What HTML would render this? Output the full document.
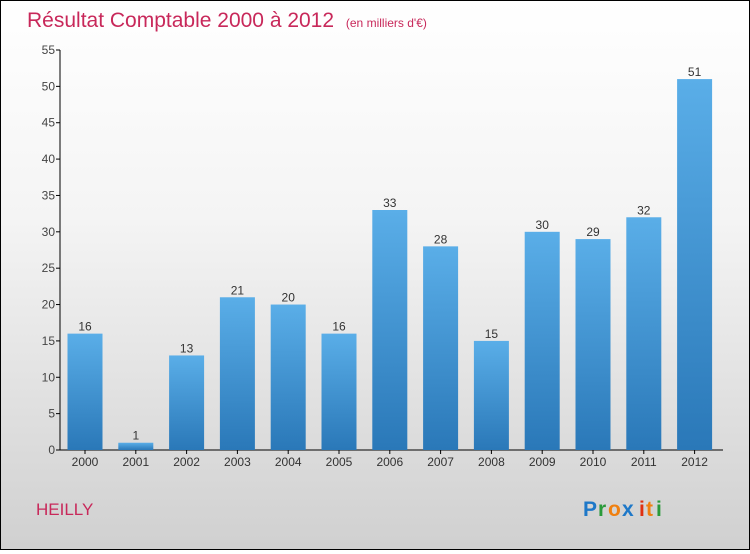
<!DOCTYPE html>
<html><head><meta charset="utf-8"><style>
body{margin:0}
#c{width:748px;height:548px;border:1px solid #000;background:linear-gradient(#ffffff,#f4f4f4 40%,#d0d0d0);position:relative;font-family:"Liberation Sans",sans-serif}
</style></head><body>
<div id="c">
<svg width="748" height="548">
<defs><linearGradient id="bg" x1="0" y1="0" x2="0" y2="1"><stop offset="0" stop-color="#5aaee8"/><stop offset="1" stop-color="#2a78b8"/></linearGradient></defs>
<text x="26" y="26" font-size="21" fill="#c8285a">Résultat Comptable 2000 à 2012 <tspan font-size="12" dx="6">(en milliers d'€)</tspan></text>
<text x="35" y="514" font-size="17" fill="#c8285a">HEILLY</text>
<g font-size="21" font-weight="bold">
<text x="582" y="515" fill="#1e78c8">P</text><text x="597" y="515" fill="#2a9a3a">r</text><text x="607" y="515" fill="#f08010">o</text><text x="621" y="515" fill="#1e78c8">x</text><text x="638" y="515" fill="#e03010">i</text><text x="645" y="515" fill="#f08010">t</text><text x="655" y="515" fill="#2a9a3a">i</text></g>
<g id="axes"></g><g id="bars"></g>
</svg></div>
<script>
const categories=["2000","2001","2002","2003","2004","2005","2006","2007","2008","2009","2010","2011","2012"];
const values=[16,1,13,21,20,16,33,28,15,30,29,32,51];
const yTicks=[0,5,10,15,20,25,30,35,40,45,50,55];
const NS="http://www.w3.org/2000/svg";
const y0=449,yTop=49,yMax=55,x0=84,step=50.8,bw=35,axX=59;
const y=v=>y0-(y0-yTop)*v/yMax;
const x=i=>x0+i*step;
function mk(t,a,p){const e=document.createElementNS(NS,t);for(const k in a)e.setAttribute(k,a[k]);p.appendChild(e);return e;}
const ax=document.getElementById('axes'),bs=document.getElementById('bars');
const yl=mk('line',{x1:axX,y1:yTop,x2:axX,y2:y0,stroke:'#000'},ax);

const xl=mk('line',{x1:axX,y1:y0,x2:722,y2:y0,stroke:'#000'},ax);

yTicks.forEach(t=>{
 mk('line',{x1:axX-4,y1:y(t),x2:axX,y2:y(t),stroke:'#000'},ax);
 const tx=mk('text',{x:axX-5,y:y(t)+4,'font-size':12,fill:'#444','text-anchor':'end'},ax);tx.textContent=t;
 
});
categories.forEach((c,i)=>{
 const cx=x(i);
 mk('line',{x1:cx,y1:y0,x2:cx,y2:y0+4,stroke:'#000'},ax);
 const tx=mk('text',{x:cx,y:y0+16,'font-size':12,fill:'#333','text-anchor':'middle'},ax);tx.textContent=c;
 
 const r=mk('rect',{x:cx-bw/2,y:y(values[i]),width:bw,height:y0-y(values[i]),fill:'url(#bg)'},bs);
 
 const l=mk('text',{x:cx,y:y(values[i])-3,'font-size':12,fill:'#333','text-anchor':'middle'},bs);l.textContent=values[i];
 
});
</script>
</body></html>
